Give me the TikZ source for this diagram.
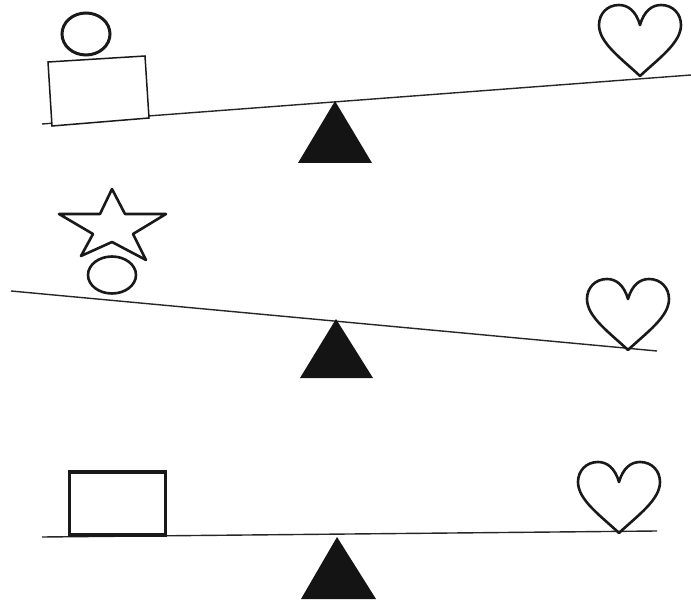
\documentclass[tikz,border=0pt]{standalone}
\begin{document}
\begin{tikzpicture}[x=1pt,y=-1pt,
  beam/.style={line width=1.4pt,black!85},
  outline/.style={line width=2.6pt,black!90,line join=round},
  thinbox/.style={line width=1.5pt,black!90},
  thickbox/.style={line width=3.4pt,black!90},
  fulcrum/.style={fill=black!92,draw=none},
  heartpath/.pic={
    \draw[outline] (0,0) .. controls (-4,-14) and (-12,-20) .. (-21,-20)
      .. controls (-33,-20) and (-41,-11) .. (-41,0)
      .. controls (-41,18) and (-18,34) .. (0,51)
      .. controls (18,34) and (41,18) .. (41,0)
      .. controls (41,-11) and (33,-20) .. (21,-20)
      .. controls (12,-20) and (4,-14) .. (0,0) -- cycle;
  }]
\useasboundingbox (0,0) rectangle (691,604);
% ---- Panel 1 ----
\draw[beam] (42,124) -- (691,75);
\fill[fulcrum] (335,101) -- (372,163) -- (298,163) -- cycle;
\draw[thinbox,fill=white] (48,62) -- (145,56) -- (149,118) -- (52,126) -- cycle;
\draw[line width=3pt,black!90] (86,34) ellipse [x radius=24, y radius=21];
\pic at (640,25) {heartpath};
% ---- Panel 2 ----
\draw[beam] (11,291) -- (657,351);
\fill[fulcrum] (336,319) -- (373,378) -- (300,378) -- cycle;
\draw[line width=2.6pt,black!90] (112,275) ellipse [x radius=24, y radius=18.5];
\draw[outline] (112,189) -- (125,214) -- (166,214) -- (133,234) -- (146,260)
  -- (112,242) -- (81,256) -- (93,234) -- (59,214) -- (100,214) -- cycle;
\pic at (628,299) {heartpath};
% ---- Panel 3 ----
\draw[beam] (42,537) -- (657,531);
\fill[fulcrum] (337,537) -- (376,599) -- (301,599) -- cycle;
\draw[thickbox] (69.5,472) rectangle (165.5,535);
\pic at (619,482) {heartpath};
\end{tikzpicture}
\end{document}
